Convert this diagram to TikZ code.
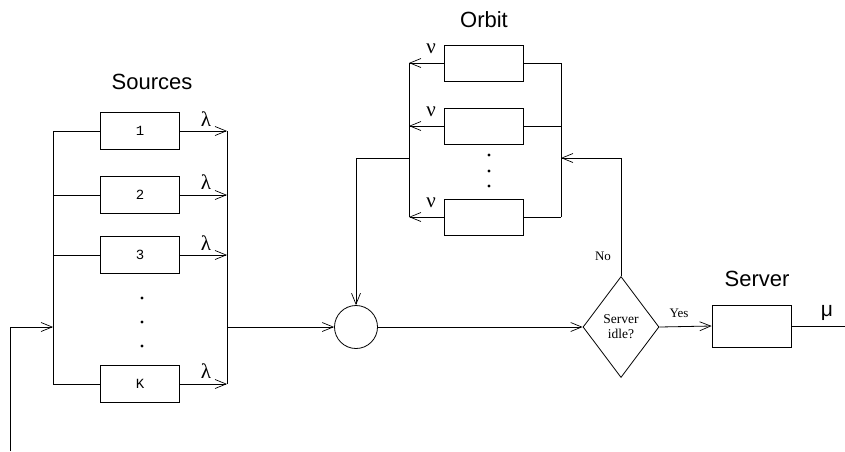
\documentclass[tikz,border=0pt]{standalone}
\usepackage{fontspec}
\setmainfont{Liberation Serif}
\newfontfamily\titlefont{Liberation Sans}
\newfontfamily\monofont{Liberation Mono}
\usetikzlibrary{arrows.meta,shapes.geometric}
\begin{document}
\begin{tikzpicture}[x=1pt,y=-1pt,
  line width=0.8pt,
  box/.style={draw,rectangle,minimum width=79pt,minimum height=37pt,inner sep=0pt,font=\monofont\fontsize{14}{16}\selectfont},
  arr/.style={-{Straight Barb[length=11pt,width=9pt,line width=0.7pt]}},
  title/.style={font=\titlefont\fontsize{22}{24}\selectfont},
  greek/.style={font=\fontsize{21}{22}\selectfont},
  small/.style={font=\fontsize{13}{14}\selectfont},
  dot/.style={circle,fill,inner sep=1.2pt}]
\useasboundingbox (0,0) rectangle (845,451);

% Sources
\node[title] (srctitle) at (152,82) {Sources};
\node[box] (s1) at (140,131) {1};
\node[box] (s2) at (140,195) {2};
\node[box] (s3) at (140,255) {3};
\node[box] (sK) at (140,384) {K};
\node[dot] (d1) at (142,298) {};
\node[dot] (d2) at (142,322) {};
\node[dot] (d3) at (142,346) {};
\coordinate (lt) at (53,131);
\coordinate (lb) at (53,384);
\coordinate (rt) at (227,131);
\coordinate (rb) at (227,384);
\coordinate (lin) at (53,327);
\coordinate (rout) at (227,327);
\draw (lt) -- (lb);
\draw (rt) -- (rb);
\foreach \n/\y in {s1/131,s2/195,s3/255,sK/384}{
  \draw (53,\y) -- (\n.west);
  \draw[arr] (\n.east) -- (227,\y);
}
\node[greek] (l1) at (206,119) {λ};
\node[greek] (l2) at (206,182) {λ};
\node[greek] (l3) at (206,243) {λ};
\node[greek] (l4) at (206,371) {λ};

% input
\coordinate (inb) at (10,451);
\coordinate (inc) at (10,327);
\draw[arr] (inb) -- (inc) -- (lin);

% merge circle
\node[draw,circle,minimum size=43pt,inner sep=0pt] (c) at (356,327) {};
\draw[arr] (rout) -- (c.west);

% decision
\node[draw,diamond,minimum width=76pt,minimum height=101pt,inner sep=0pt,align=center,font=\fontsize{13.5}{15}\selectfont] (dec) at (621,327) {Server\\idle?};
\draw[arr] (c.east) -- (dec.west);

% server
\node[title] (srvtitle) at (757,279) {Server};
\node[draw,rectangle,minimum width=79pt,minimum height=42pt,inner sep=0pt] (srv) at (751.5,326) {};
\draw[arr] (dec.east) -- (srv.west);
\coordinate (out) at (845,326);
\draw (srv.east) -- (out);
\node[font=\titlefont\fontsize{21}{22}\selectfont] (mu) at (827,313) {μ};
\node[small] (yes) at (679,313) {Yes};
\node[small] (no) at (603,256) {No};

% orbit
\node[title] (orbtitle) at (484,20) {Orbit};
\node[box,minimum height=36pt] (o1) at (483.5,63) {};
\node[box,minimum height=36pt] (o2) at (483.5,126) {};
\node[box,minimum height=36pt] (o3) at (483.5,217) {};
\node[dot] (e1) at (489,155) {};
\node[dot] (e2) at (489,171) {};
\node[dot] (e3) at (489,186) {};
\draw (409,63) -- (409,217);
\draw (561,63) -- (561,217);
\foreach \n/\y in {o1/63,o2/126,o3/217}{
  \draw (561,\y) -- (\n.east);
  \draw[arr] (\n.west) -- (409,\y);
}
\node[greek] (n1) at (431,49) {ν};
\node[greek] (n2) at (431,112) {ν};
\node[greek] (n3) at (431,203) {ν};
\coordinate (ret) at (621,158);
\coordinate (retin) at (561,158);
\draw[arr] (dec.north) -- (ret) -- (retin);
\coordinate (ol) at (409,158);
\coordinate (oc) at (356,158);
\draw[arr] (ol) -- (oc) -- (c.north);
\end{tikzpicture}
\end{document}
